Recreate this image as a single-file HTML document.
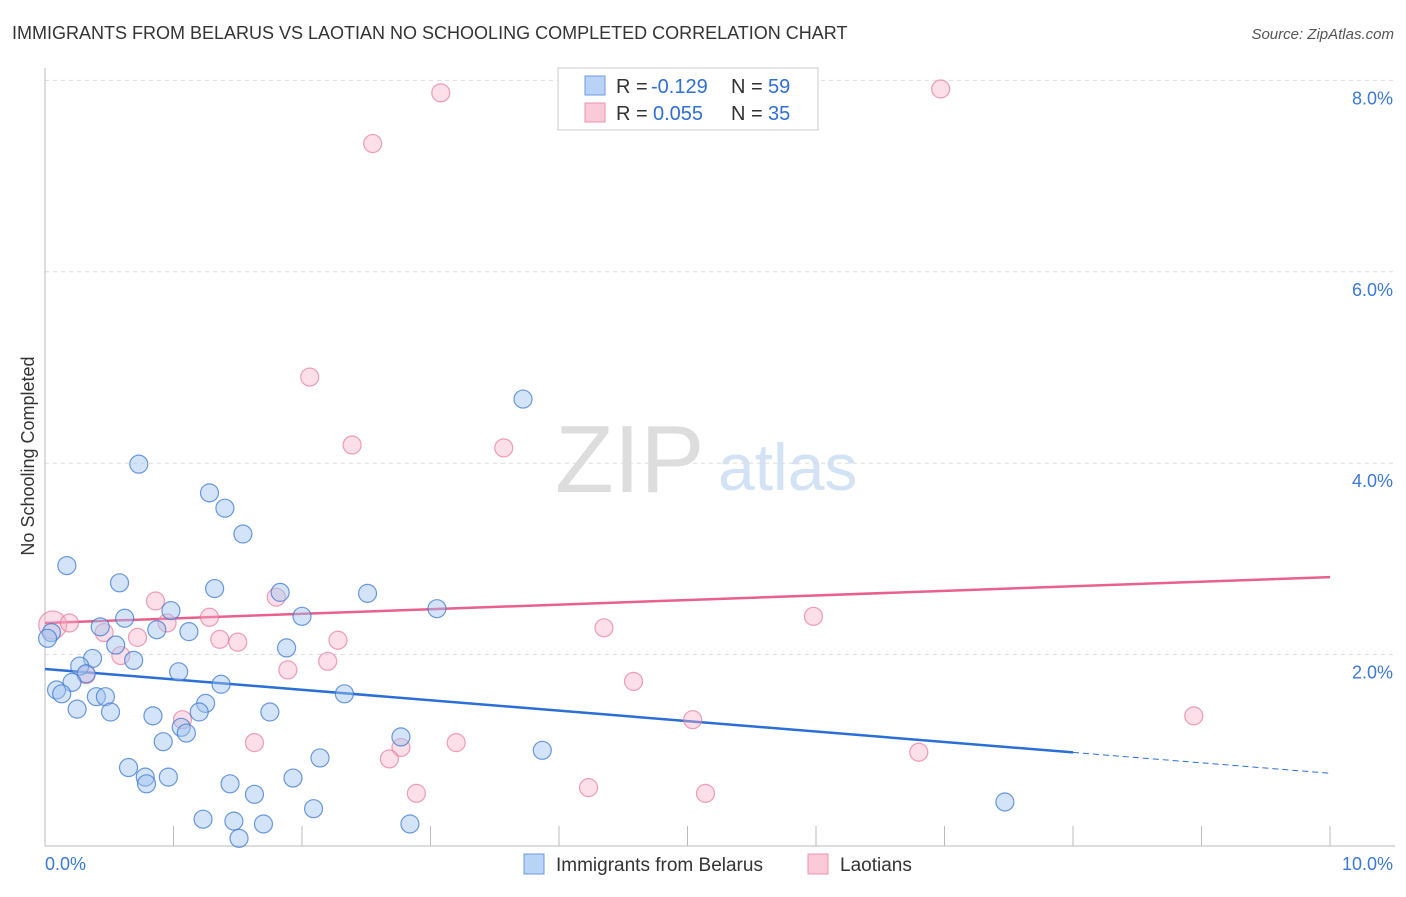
<!DOCTYPE html>
<html><head><meta charset="utf-8"><style>
body{margin:0;background:#fff;font-family:"Liberation Sans",sans-serif}
svg text{font-family:"Liberation Sans",sans-serif}
</style></head><body>
<svg id="chart" width="1406" height="892">
<text x="12" y="39" font-size="18" fill="#333">IMMIGRANTS FROM BELARUS VS LAOTIAN NO SCHOOLING COMPLETED CORRELATION CHART</text>
<text x="1394" y="39" font-size="15" fill="#555" font-style="italic" text-anchor="end">Source: ZipAtlas.com</text>
<text transform="translate(34,456) rotate(-90)" font-size="18" fill="#333" text-anchor="middle">No Schooling Completed</text>
<text x="555" y="492" font-size="96" fill="#ddd" font-family="Liberation Serif">ZIP</text>
<text x="718" y="490" font-size="66" fill="#d3e2f5">atlas</text>
<g id="grid"></g><g id="axes"></g><g id="trends"></g><g id="pts"></g>
<g>
<rect x="558" y="68" width="260" height="62" fill="#fff" stroke="#ccc"/>
<rect x="585" y="76" width="20" height="19" fill="#b9d3f7" stroke="#6d9be0"/>
<rect x="585" y="103" width="20" height="19" fill="#fbcad9" stroke="#eb93ae"/>
<text x="616" y="93" font-size="20" fill="#333">R =</text>
<text x="651" y="93" font-size="20" fill="#2f6fd6">-0.129</text>
<text x="731" y="93" font-size="20" fill="#333">N =</text>
<text x="768" y="93" font-size="20" fill="#2f6fd6">59</text>
<text x="616" y="120" font-size="20" fill="#333">R =</text>
<text x="653" y="120" font-size="20" fill="#2f6fd6">0.055</text>
<text x="731" y="120" font-size="20" fill="#333">N =</text>
<text x="768" y="120" font-size="20" fill="#2f6fd6">35</text>
</g>
<g>
<rect x="524" y="854" width="20" height="20" fill="#b9d3f7" stroke="#6d9be0"/>
<text x="556" y="871" font-size="19" fill="#333">Immigrants from Belarus</text>
<rect x="808" y="854" width="20" height="20" fill="#fbcad9" stroke="#eb93ae"/>
<text x="840" y="871" font-size="19" fill="#333">Laotians</text>
</g>
</svg>
<script>
const yTicks=[2,4,6,8];
const yTickLabels=["2.0%","4.0%","6.0%","8.0%"];
const xTickLabels=["0.0%","10.0%"];
const blueX=[0.05,0.17,0.58,0.73,1.28,1.40,1.54,1.32,1.83,2.51,3.05,3.72,2.00,0.98,0.62,0.43,0.87,1.12,0.55,0.37,0.69,1.88,0.27,0.32,0.21,0.09,0.13,0.40,0.47,0.51,0.25,1.04,1.37,1.25,1.20,0.84,1.75,2.33,1.06,1.10,0.92,2.77,3.87,2.14,0.65,0.78,0.96,0.79,1.44,1.93,1.63,2.09,1.23,1.47,1.70,2.84,1.51,7.47,0.02];
const blueY=[2.23,2.93,2.75,3.99,3.69,3.53,3.26,2.69,2.65,2.64,2.48,4.67,2.40,2.46,2.38,2.29,2.26,2.24,2.10,1.96,1.94,2.07,1.88,1.80,1.71,1.63,1.59,1.56,1.56,1.40,1.43,1.82,1.69,1.49,1.40,1.36,1.40,1.59,1.24,1.18,1.09,1.14,1.00,0.92,0.82,0.72,0.72,0.65,0.65,0.71,0.54,0.39,0.28,0.26,0.23,0.23,0.08,0.46,2.17];
const pinkX=[0.06,0.19,0.46,0.86,0.95,0.72,0.59,1.28,1.36,1.50,1.80,2.28,2.20,1.89,0.32,1.07,1.63,2.06,2.39,2.55,3.08,3.57,6.97,4.35,4.58,5.98,5.04,6.80,8.94,2.77,2.68,2.89,3.20,4.23,5.14];
const pinkY=[2.31,2.33,2.23,2.56,2.33,2.18,1.99,2.39,2.16,2.13,2.60,2.15,1.93,1.84,1.79,1.32,1.08,4.90,4.19,7.34,7.87,4.16,7.91,2.28,1.72,2.40,1.32,0.98,1.36,1.03,0.91,0.55,1.08,0.61,0.55];
const blueTrend=[1.85,0.76];
const pinkTrend=[2.33,2.81];
const NS="http://www.w3.org/2000/svg";
const X0=45,X1=1330,Y0=846,PX=95.7;
const sx=v=>X0+(X1-X0)*v/10, sy=v=>Y0-v*PX;
function mk(tag,attrs,parent){const e=document.createElementNS(NS,tag);for(const k in attrs)e.setAttribute(k,attrs[k]);document.getElementById(parent).appendChild(e);return e;}
yTicks.forEach((t,i)=>{
 const l=mk('line',{x1:X0,x2:1395,y1:sy(t),y2:sy(t),stroke:'#ddd','stroke-dasharray':'4,4'},'grid');
 
 
 const tx=mk('text',{x:1393,y:sy(t)+24,'font-size':18,fill:'#3b78d8','text-anchor':'end'},'grid');tx.textContent=yTickLabels[i];
 
 
});
let a=mk('line',{x1:X0,x2:X0,y1:68,y2:Y0,stroke:'#bbb'},'axes');


a=mk('line',{x1:X0,x2:1395,y1:Y0,y2:Y0,stroke:'#bbb'},'axes');


for(let i=1;i<=10;i++){const t=mk('line',{x1:sx(i),x2:sx(i),y1:Y0,y2:Y0-20,stroke:'#bbb'},'axes');
 
 }
[[0,'start',45],[1,'end',1393]].forEach(([i,anc,x])=>{const t=mk('text',{x:x,y:870,'font-size':18,fill:'#3b78d8','text-anchor':anc},'axes');t.textContent=xTickLabels[i];
 
 });
function pts(xs,ys,fill,stroke,name){xs.forEach((x,i)=>{const c=mk('circle',{cx:sx(x),cy:sy(ys[i]),r:(name==='laotian-point'&&i===0)?14:9,fill:fill,stroke:stroke,'stroke-width':1.2},'pts');
 
 });}
pts(pinkX,pinkY,'rgba(248,176,198,0.4)','rgba(232,120,155,0.7)','laotian-point');
pts(blueX,blueY,'rgba(160,195,240,0.45)','rgba(60,120,210,0.75)','belarus-point');
const bEnd=8.0,bAt=v=>blueTrend[0]+(blueTrend[1]-blueTrend[0])*v/10;
let t=mk('line',{x1:sx(0),y1:sy(bAt(0)),x2:sx(bEnd),y2:sy(bAt(bEnd)),stroke:'#2a6fd6','stroke-width':2.5},'trends');


t=mk('line',{x1:sx(bEnd),y1:sy(bAt(bEnd)),x2:sx(10),y2:sy(bAt(10)),stroke:'#2a6fd6','stroke-width':1,'stroke-dasharray':'6,4'},'trends');


t=mk('line',{x1:sx(0),y1:sy(pinkTrend[0]),x2:sx(10),y2:sy(pinkTrend[1]),stroke:'#e8608c','stroke-width':2.5},'trends');


</script>
</body></html>
